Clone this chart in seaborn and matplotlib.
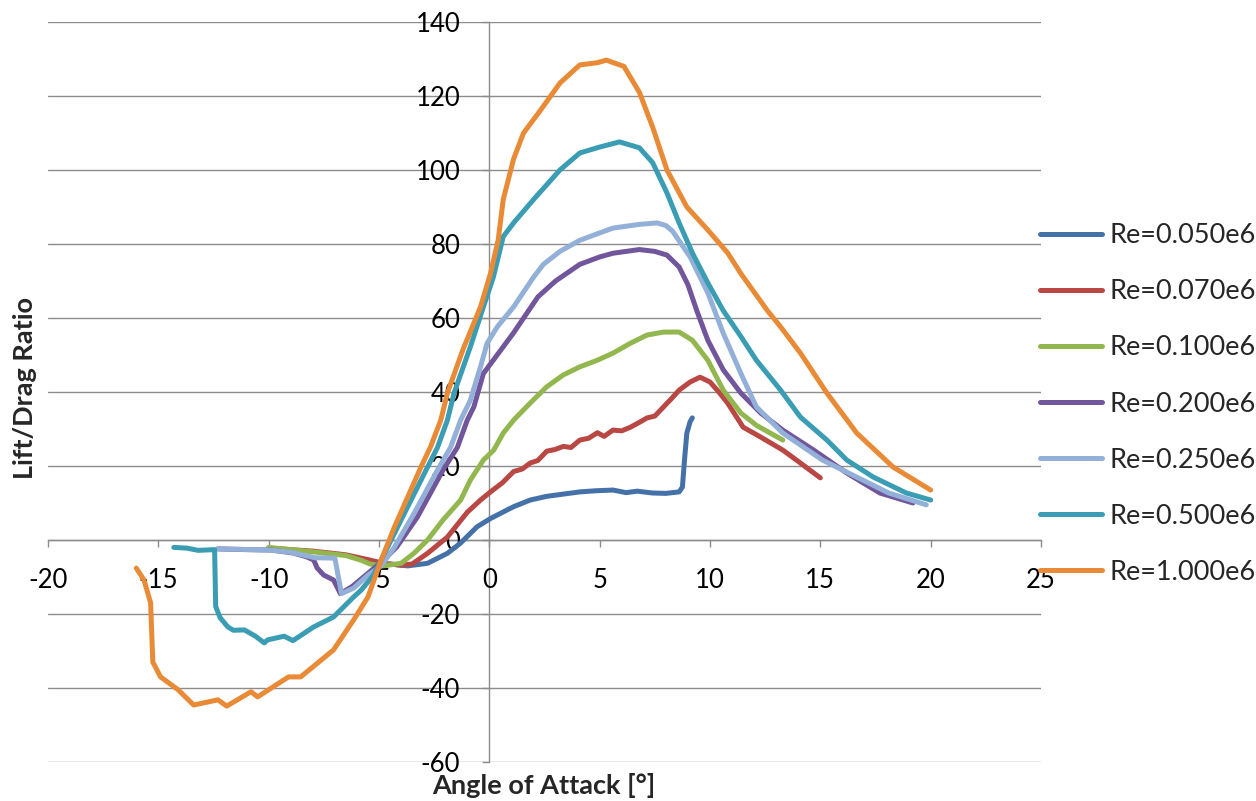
import numpy as np
import pandas as pd
import matplotlib
matplotlib.use("Agg")
import matplotlib.pyplot as plt
import seaborn as sns

# Data: angle of attack (deg) and lift/drag ratio
re_labels = ["Re=0.050e6", "Re=0.070e6", "Re=0.100e6", "Re=0.200e6",
             "Re=0.250e6", "Re=0.500e6", "Re=1.000e6"]

alpha_050 = [-4.5, -3.7, -2.8, -1.9, -1.3, -0.55, 0.05, 0.8, 1.1, 1.85, 2.6, 3.35, 4.1,
             4.8, 5.6, 6.2, 6.7, 7.4, 8.0, 8.6, 8.75, 8.85, 8.95, 9.1, 9.2]
ld_050 = [-6.5, -7.0, -6.3, -3.6, -0.8, 3.6, 5.8, 8.1, 9.0, 10.8, 11.8, 12.4, 13.0,
          13.3, 13.5, 12.8, 13.2, 12.7, 12.6, 13.0, 14.3, 22.0, 28.9, 32.0, 33.0]

alpha_070 = [-10.0, -8.0, -6.5, -5.5, -4.8, -4.0, -3.5, -2.8, -1.9, -1.0, -0.4, 0.05, 0.6,
             1.1, 1.5, 1.85, 2.2, 2.6, 3.0, 3.35, 3.7, 4.1, 4.5, 4.9, 5.2, 5.6, 6.0, 6.4,
             6.8, 7.15, 7.5, 7.9, 8.3, 8.6, 9.1, 9.55, 10.0, 10.4, 10.8, 11.5, 12.3, 13.3,
             14.1, 14.5, 15.0]
ld_070 = [-2.2, -3.0, -4.0, -5.3, -6.3, -6.8, -6.5, -3.6, 0.8, 7.5, 10.8, 13.0, 15.5,
          18.5, 19.2, 20.8, 21.5, 24.0, 24.5, 25.3, 25.0, 27.0, 27.5, 29.0, 28.0, 29.7,
          29.5, 30.5, 31.8, 33.0, 33.5, 36.0, 38.5, 40.5, 42.7, 44.0, 42.7, 40.0, 37.0,
          30.5, 27.8, 24.3, 20.8, 19.0, 16.8]

alpha_100 = [-10.0, -8.0, -6.5, -5.8, -5.4, -4.8, -4.0, -3.4, -2.8, -2.1, -1.3, -0.86,
             -0.27, 0.2, 0.63, 1.1, 1.85, 2.6, 3.35, 4.1, 4.9, 5.6, 6.4, 7.15, 7.9, 8.6,
             9.2, 9.9, 10.6, 11.4, 12.1, 13.3]
ld_100 = [-2.0, -3.2, -4.2, -5.5, -6.5, -7.0, -6.3, -3.5, 0.0, 5.4, 10.8, 16.2, 21.6,
          24.3, 28.9, 32.4, 37.0, 41.4, 44.6, 46.8, 48.6, 50.5, 53.2, 55.4, 56.2, 56.2,
          54.0, 48.6, 40.5, 34.3, 31.0, 27.0]

alpha_200 = [-12.3, -11.0, -9.9, -8.9, -8.3, -7.96, -7.8, -7.5, -7.06, -6.75, -6.2, -5.5,
             -4.9, -4.2, -3.26, -2.1, -1.45, -1.0, -0.7, -0.27, 0.18, 1.1, 2.2, 3.0, 4.1,
             5.0, 5.6, 6.8, 7.5, 8.05, 8.6, 9.0, 9.4, 9.9, 10.6, 11.4, 12.3, 13.3, 14.7,
             16.2, 17.7, 19.2]
ld_200 = [-2.4, -2.6, -2.7, -3.5, -4.5, -5.4, -7.6, -9.5, -10.8, -14.5, -12.5, -9.0,
          -6.0, -1.9, 6.2, 18.9, 25.0, 32.4, 36.0, 45.0, 48.6, 56.0, 65.7, 70.0, 74.5,
          76.5, 77.5, 78.5, 78.0, 77.0, 73.8, 69.0, 62.0, 54.0, 46.0, 39.7, 34.3, 29.7,
          24.3, 18.1, 12.7, 10.0]

alpha_250 = [-12.3, -10.0, -9.0, -7.9, -7.0, -6.7, -6.15, -5.5, -4.9, -4.3, -3.4, -2.35,
             -1.76, -1.3, -0.86, -0.4, -0.1, 0.36, 1.1, 2.0, 2.45, 3.2, 4.1, 5.0, 5.6, 6.8,
             7.6, 8.0, 8.3, 8.7, 9.1, 9.9, 10.6, 11.4, 12.1, 13.3, 15.1, 16.65, 18.1, 19.8]
ld_250 = [-2.4, -2.7, -3.3, -4.8, -4.9, -14.5, -13.0, -9.5, -7.0, -1.9, 7.3, 18.9, 25.0,
          32.4, 37.8, 46.8, 53.2, 57.6, 63.0, 71.0, 74.5, 78.0, 81.0, 83.0, 84.3, 85.3,
          85.7, 85.0, 83.5, 80.0, 76.5, 66.8, 55.9, 45.0, 36.0, 28.9, 21.6, 17.0, 12.7, 9.5]

alpha_500 = [-14.3, -13.7, -13.2, -12.45, -12.4, -12.2, -11.85, -11.6, -11.1, -10.6, -10.2,
             -10.05, -9.3, -8.9, -7.96, -7.06, -6.15, -5.8, -5.25, -4.9, -4.0, -2.8, -2.35,
             -1.9, -1.6, -0.86, -0.27, 0.18, 0.63, 1.1, 2.0, 3.2, 4.1, 5.0, 5.9, 6.8, 7.4,
             8.05, 8.6, 9.2, 9.9, 10.6, 11.4, 12.1, 13.2, 14.1, 15.3, 16.2, 17.4, 18.9, 20.0]
ld_500 = [-2.0, -2.2, -2.8, -2.6, -18.0, -21.0, -23.5, -24.4, -24.3, -26.0, -27.8, -27.0,
          -26.0, -27.2, -23.5, -20.8, -15.4, -13.5, -9.5, -5.4, 5.4, 19.7, 25.0, 32.4,
          39.7, 52.2, 63.0, 71.0, 82.0, 85.7, 92.0, 100.0, 104.6, 106.2, 107.6, 106.0,
          102.0, 93.8, 85.7, 77.6, 69.5, 62.0, 55.0, 48.6, 40.5, 33.2, 27.0, 21.6, 17.0,
          12.7, 10.8]

alpha_1000 = [-16.0, -15.65, -15.35, -15.25, -14.9, -14.1, -13.4, -12.3, -11.9, -10.8, -10.5,
              -9.1, -8.55, -7.06, -6.15, -5.5, -4.9, -4.3, -3.1, -2.67, -2.2, -1.9, -1.2,
              -0.4, 0.05, 0.4, 0.63, 1.1, 1.55, 2.3, 3.2, 4.1, 4.9, 5.3, 6.1, 6.8, 7.4,
              8.05, 8.95, 9.9, 10.8, 11.4, 12.6, 13.2, 14.1, 15.3, 16.65, 18.3, 20.0]
ld_1000 = [-7.6, -10.8, -17.0, -33.0, -37.0, -40.5, -44.6, -43.2, -44.9, -41.0, -42.4,
           -37.0, -37.0, -29.7, -21.6, -15.4, -5.4, 3.5, 19.7, 25.1, 32.4, 39.7, 51.4,
           63.0, 72.0, 81.0, 92.0, 103.0, 110.0, 116.0, 123.5, 128.4, 129.0, 129.7, 128.0,
           121.0, 111.6, 100.0, 90.0, 83.8, 77.6, 72.0, 62.0, 57.6, 50.5, 39.7, 28.9,
           19.7, 13.5]

colors = ["#4472A8", "#B94744", "#93B74F", "#72569B", "#93B0D8", "#3A9DB4", "#E98A36"]

series = [(alpha_050, ld_050), (alpha_070, ld_070), (alpha_100, ld_100),
          (alpha_200, ld_200), (alpha_250, ld_250), (alpha_500, ld_500),
          (alpha_1000, ld_1000)]

frames = []
for label, (a, ld) in zip(re_labels, series):
    frames.append(pd.DataFrame({"alpha": a, "ld": ld, "Re": label}))
df = pd.concat(frames, ignore_index=True)

sns.set_style("white")
plt.rcParams["font.family"] = ["Lato", "DejaVu Sans"]
plt.rcParams["axes.unicode_minus"] = False

fig = plt.figure(figsize=(12.56, 8.01), dpi=100)
ax = fig.add_axes([48 / 1256, 1 - 762 / 801, (1041 - 48) / 1256, (762 - 22) / 801])

sns.lineplot(data=df, x="alpha", y="ld", hue="Re", hue_order=re_labels,
             palette=dict(zip(re_labels, colors)), sort=False, estimator=None,
             linewidth=3.6, ax=ax)

ax.set_xlim(-20, 25)
ax.set_ylim(-60, 140)
ax.set_xticks(np.arange(-20, 26, 5))
ax.set_yticks(np.arange(-60, 141, 20))
ax.grid(axis="y", color="#8c8c8c", linewidth=1.0)
ax.grid(axis="x", visible=False)
ax.set_axisbelow(True)

# axes cross at the origin, like the Excel original
ax.spines["left"].set_position(("data", 0))
ax.spines["bottom"].set_position(("data", 0))
ax.spines["top"].set_visible(False)
ax.spines["right"].set_visible(False)
for s in ["left", "bottom"]:
    ax.spines[s].set_color("#8c8c8c")
    ax.spines[s].set_linewidth(1.0)
    ax.spines[s].set_zorder(0.5)

ax.tick_params(axis="x", direction="out", length=5, width=1, color="#8c8c8c",
               pad=15, labelsize=18.5, labelcolor="black", bottom=True)
ax.tick_params(axis="y", direction="out", length=5, width=1, color="#8c8c8c",
               pad=16, labelsize=18.5, labelcolor="black", left=True)
ax.set_xlabel("")
ax.set_ylabel("")

fig.text(544 / 1256, 1 - 786 / 801, "Angle of Attack [°]", ha="center", va="center",
         fontsize=19.5, fontweight="bold")
fig.text(25 / 1256, 1 - 388 / 801, "Lift/Drag Ratio", ha="center", va="center",
         rotation=90, fontsize=19.5, fontweight="bold")

handles, labels = ax.get_legend_handles_labels()
ax.legend(handles, labels, loc="center left", bbox_to_anchor=(1040 / 1256, 1 - 404 / 801),
          bbox_transform=fig.transFigure, frameon=False, borderaxespad=0, borderpad=0,
          fontsize=19.5, handlelength=2.3, handletextpad=0.25, labelspacing=1.15)

fig.savefig("out.png", dpi=100)
